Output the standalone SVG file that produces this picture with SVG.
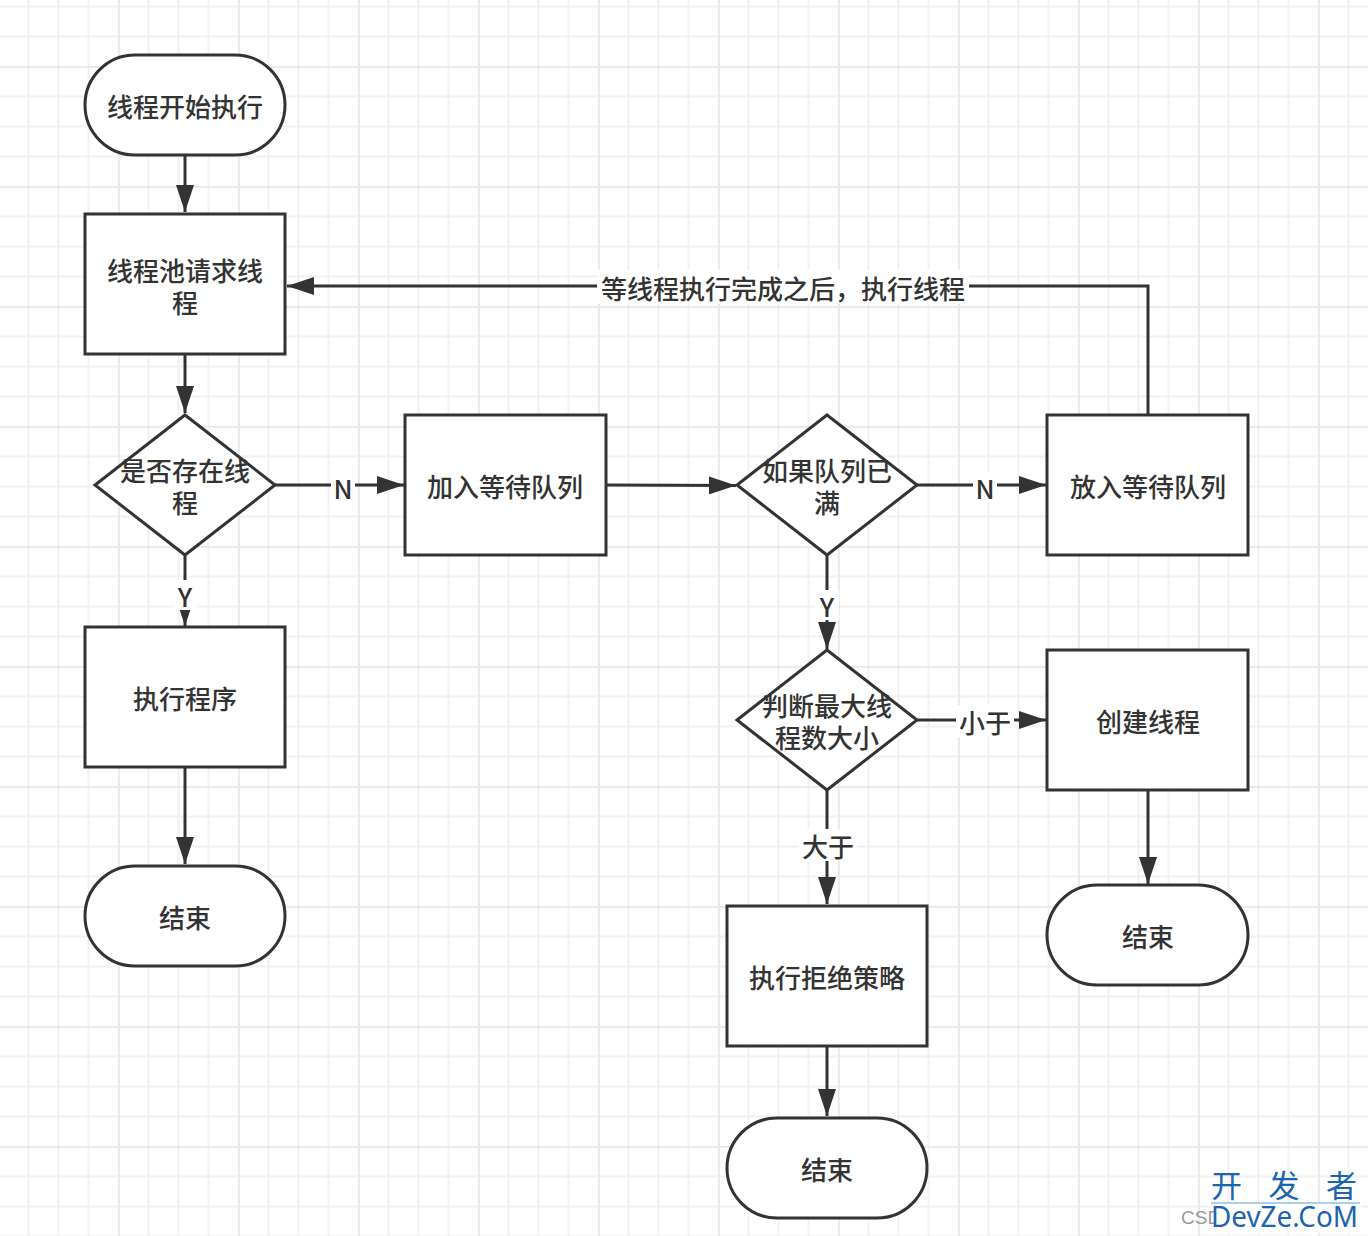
<svg xmlns="http://www.w3.org/2000/svg" width="1368" height="1236" viewBox="0 0 1368 1236">
<defs>
<pattern id="grid" patternUnits="userSpaceOnUse" x="118" y="66" width="120" height="120">
<rect width="120" height="120" fill="#ffffff"/>
<path d="M30.5 0V120M60.5 0V120M90.5 0V120M0 30.5H120M0 60.5H120M0 90.5H120" stroke="#f1f1f1" stroke-width="2"/>
<path d="M0.5 0V120M0 0.5H120" stroke="#e8e8e8" stroke-width="2.5"/>
</pattern>
<marker id="arr" markerUnits="userSpaceOnUse" markerWidth="28" markerHeight="18" refX="27" refY="9" orient="auto">
<path d="M0 0L27 9L0 18Z" fill="#333333"/>
</marker>
</defs>
<style>
.shape{fill:#ffffff;stroke:#333333;stroke-width:3}
.t{font-family:"Noto Sans CJK SC","Noto Sans",sans-serif;font-size:26px;font-weight:500;fill:#333333;text-anchor:middle;dominant-baseline:central}
.edge{fill:none;stroke:#333333;stroke-width:3}
.lbg{fill:#ffffff}
</style>
<rect width="1368" height="1236" fill="url(#grid)"/>

<g id="connectors">
<path class="edge" d="M185 155V212" marker-end="url(#arr)"/>
<path class="edge" d="M185 354V413" marker-end="url(#arr)"/>
<path class="edge" d="M275 485H404" marker-end="url(#arr)"/>
<path class="edge" d="M606 485L736 485.5" marker-end="url(#arr)"/>
<path class="edge" d="M917 485H1046" marker-end="url(#arr)"/>
<path class="edge" d="M1148 415V286H287" marker-end="url(#arr)"/>
<path class="edge" d="M185 555V626" marker-end="url(#arr)"/>
<path class="edge" d="M185 767V864" marker-end="url(#arr)"/>
<path class="edge" d="M827 555V649" marker-end="url(#arr)"/>
<path class="edge" d="M917 720H1046" marker-end="url(#arr)"/>
<path class="edge" d="M1148 790V884" marker-end="url(#arr)"/>
<path class="edge" d="M827 790V904" marker-end="url(#arr)"/>
<path class="edge" d="M827 1046V1116" marker-end="url(#arr)"/>
<rect class="lbg" x="331" y="472" width="24" height="30"/>
<text class="t" x="343" y="487">N</text>
<rect class="lbg" x="973" y="472" width="24" height="30"/>
<text class="t" x="985" y="487">N</text>
<rect class="lbg" x="173" y="580" width="24" height="30"/>
<text class="t" x="185" y="595">Y</text>
<rect class="lbg" x="815" y="590" width="24" height="30"/>
<text class="t" x="827" y="605">Y</text>
<rect class="lbg" x="956" y="705" width="58" height="32"/>
<text class="t" x="985" y="721">小于</text>
<rect class="lbg" x="799" y="829" width="58" height="32"/>
<text class="t" x="828" y="845">大于</text>
<rect class="lbg" x="597" y="270" width="372" height="34"/>
<text class="t" x="783" y="287">等线程执行完成之后，执行线程</text>
</g>

<g id="start">
<rect class="shape" x="85" y="55" width="200" height="100" rx="50" ry="50"/>
<text class="t" x="185" y="105">线程开始执行</text>
</g>
<g id="request">
<rect class="shape" x="85" y="214" width="200" height="140"/>
<text class="t" x="185" y="269">线程池请求线<tspan x="185" dy="32">程</tspan></text>
</g>
<g id="exists">
<path class="shape" d="M185 415L275 485L185 555L95 485Z"/>
<text class="t" x="185" y="469">是否存在线<tspan x="185" dy="32">程</tspan></text>
</g>
<g id="join">
<rect class="shape" x="405" y="415" width="201" height="140"/>
<text class="t" x="505" y="485">加入等待队列</text>
</g>
<g id="full">
<path class="shape" d="M827 415L917 485L827 555L737 485Z"/>
<text class="t" x="827" y="469">如果队列已<tspan x="827" dy="32">满</tspan></text>
</g>
<g id="put">
<rect class="shape" x="1047" y="415" width="201" height="140"/>
<text class="t" x="1148" y="485">放入等待队列</text>
</g>
<g id="run">
<rect class="shape" x="85" y="627" width="200" height="140"/>
<text class="t" x="185" y="697">执行程序</text>
</g>
<g id="end1">
<rect class="shape" x="85" y="866" width="200" height="100" rx="50" ry="50"/>
<text class="t" x="185" y="916">结束</text>
</g>
<g id="max">
<path class="shape" d="M827 650L917 720L827 790L737 720Z"/>
<text class="t" x="827" y="704">判断最大线<tspan x="827" dy="32">程数大小</tspan></text>
</g>
<g id="create">
<rect class="shape" x="1047" y="650" width="201" height="140"/>
<text class="t" x="1148" y="720">创建线程</text>
</g>
<g id="end2">
<rect class="shape" x="1047" y="885" width="201" height="100" rx="50" ry="50"/>
<text class="t" x="1148" y="935">结束</text>
</g>
<g id="reject">
<rect class="shape" x="727" y="906" width="200" height="140"/>
<text class="t" x="827" y="976">执行拒绝策略</text>
</g>
<g id="end3">
<rect class="shape" x="727" y="1118" width="200" height="100" rx="50" ry="50"/>
<text class="t" x="827" y="1168">结束</text>
</g>

<g id="watermark">
<text x="1181" y="1224" font-family="Liberation Sans, sans-serif" font-size="19" fill="#9a9a9a">CSD</text>
<rect x="1214" y="1204" width="147" height="29" fill="#ffffff"/>
<line x1="1211" y1="1203" x2="1360" y2="1203" stroke="#8ec0e8" stroke-width="1.5"/>
<text x="1211" y="1197" font-family="'Noto Sans CJK SC',sans-serif" font-size="31" fill="#1a64b0" textLength="146" lengthAdjust="spacing">开 发 者</text>
<text x="1211" y="1227" font-family="'Noto Sans',sans-serif" font-size="29" fill="#1a64b0" textLength="147" lengthAdjust="spacingAndGlyphs">DevZe.CoM</text>
</g>
</svg>
